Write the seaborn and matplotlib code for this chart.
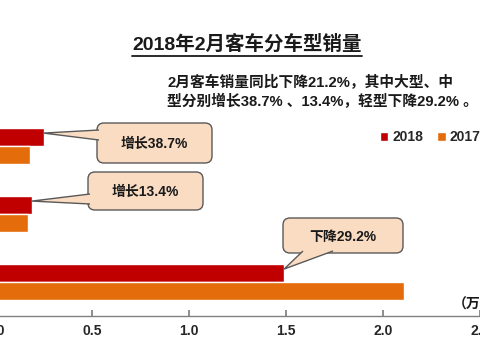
import pandas as pd
import matplotlib
matplotlib.use("Agg")
import matplotlib.pyplot as plt
from matplotlib.patches import FancyBboxPatch, Polygon
from matplotlib.lines import Line2D
import seaborn as sns

# 数据 (万辆)
categories = ["大型", "中型", "轻型"]
years = ["2018", "2017"]
sales_2018 = [0.25, 0.19, 1.49]
sales_2017 = [0.18, 0.17, 2.11]
x_ticks = [0, 0.5, 1.0, 1.5, 2.0, 2.5]
callout_texts = ["增长38.7%", "增长13.4%", "下降29.2%"]

title = "2018年2月客车分车型销量"
note_lines = ["2月客车销量同比下降21.2%，其中大型、中",
              "型分别增长38.7% 、13.4%，轻型下降29.2% 。"]
unit = "（万辆）"

df = pd.DataFrame({
    "车型": categories * 2,
    "年份": [years[0]] * 3 + [years[1]] * 3,
    "销量": sales_2018 + sales_2017,
})

sns.set_theme(style="white")
plt.rcParams["font.family"] = ["Liberation Sans", "Noto Sans CJK SC", "DejaVu Sans"]
plt.rcParams["font.weight"] = "bold"

W, H = 480, 360
fig = plt.figure(figsize=(4.8, 3.6), dpi=100)
ax = fig.add_axes([-5 / W, 44 / H, 485 / W, 204 / H])

sns.barplot(data=df, x="销量", y="车型", hue="年份", order=categories,
            hue_order=years, palette=["#C00000", "#E46C0A"], saturation=1,
            width=0.52, orient="h", ax=ax)

ax.set_xlim(0, 2.5)
ax.set_ylim(2.5, -0.5)
ax.set_xticks(x_ticks)
ax.set_xticklabels([f"{t:.1f}" for t in x_ticks])
ax.set_xlabel("")
ax.set_ylabel("")
for s in ["left", "top", "right"]:
    ax.spines[s].set_visible(False)
ax.spines["bottom"].set_color("#808080")
ax.spines["bottom"].set_linewidth(1)
ax.tick_params(axis="x", direction="in", length=4, color="#808080",
               pad=6, labelsize=10, bottom=True)
ax.tick_params(axis="y", left=False, labelleft=False)

ax.legend(ncol=2, frameon=False, loc="center left",
          bbox_to_anchor=(380 / W, 1 - 137 / H), bbox_transform=fig.transFigure,
          handlelength=0.6, handleheight=0.6, handletextpad=0.3,
          columnspacing=1.0, borderpad=0, borderaxespad=0,
          prop={"size": 10, "weight": "bold"})

# 标题 + 下划线
t = fig.text(247 / W, 1 - 44 / H, title, ha="center", va="center",
             fontsize=14, fontweight="heavy", color="#1a1a1a")
for i, line in enumerate(note_lines):
    fig.text(167 / W, 1 - (83 + 18 * i) / H, line, ha="left", va="center",
             fontsize=10.6, fontweight="bold", color="#1a1a1a")
fig.text(453 / W, 1 - 305 / H, unit, ha="left", va="center",
         fontsize=10, fontweight="bold", color="#1a1a1a")

fig.canvas.draw()
bb = t.get_window_extent(fig.canvas.get_renderer())
y_ul = bb.y0 - 2
fig.add_artist(Line2D([bb.x0, bb.x1], [y_ul, y_ul], transform=None,
                      color="#1a1a1a", lw=1.3))

# 标注框 (像素: 左, 上, 右, 下) 和指针底边
boxes = [(97, 123, 212, 163), (88, 172, 203, 210), (283, 218, 403, 253)]
bases = [((97, 130), (97, 140)), ((88, 194), (88, 204)), ((303, 253), (333, 253))]
inset = [(2, 0), (2, 0), (0, -2)]

px = fig.dpi_scale_trans
def to_in(p):
    return (p[0] / 100, (H - p[1]) / 100)

bars_2018 = ax.containers[0]
for k, (box, base, txt) in enumerate(zip(boxes, bases, callout_texts)):
    l, tp, r, b = box
    patch = FancyBboxPatch(to_in((l, b)), (r - l) / 100, (b - tp) / 100,
                           boxstyle="round,pad=0,rounding_size=0.07",
                           fc="#FADCC3", ec="#595959", lw=1.0,
                           transform=px, zorder=5)
    fig.add_artist(patch)
    bar = bars_2018[k]
    tip_disp = ax.transData.transform((bar.get_x() + bar.get_width(),
                                       bar.get_y() + 0.07))
    tip = px.inverted().transform(tip_disp)
    dx, dy = inset[k]
    b1 = to_in((base[0][0] + dx, base[0][1] + dy))
    b2 = to_in((base[1][0] + dx, base[1][1] + dy))
    wedge = Polygon([b1, tip, b2], closed=False, fc="#FADCC3", ec="#595959",
                    lw=1.0, transform=px, zorder=6)
    fig.add_artist(wedge)
    fig.text((l + r) / 2 / W, 1 - ((tp + b) / 2 + 1) / H, txt, ha="center",
             va="center", fontsize=10, fontweight="bold", color="#1a1a1a",
             zorder=7)

fig.savefig("out.png", dpi=100)
